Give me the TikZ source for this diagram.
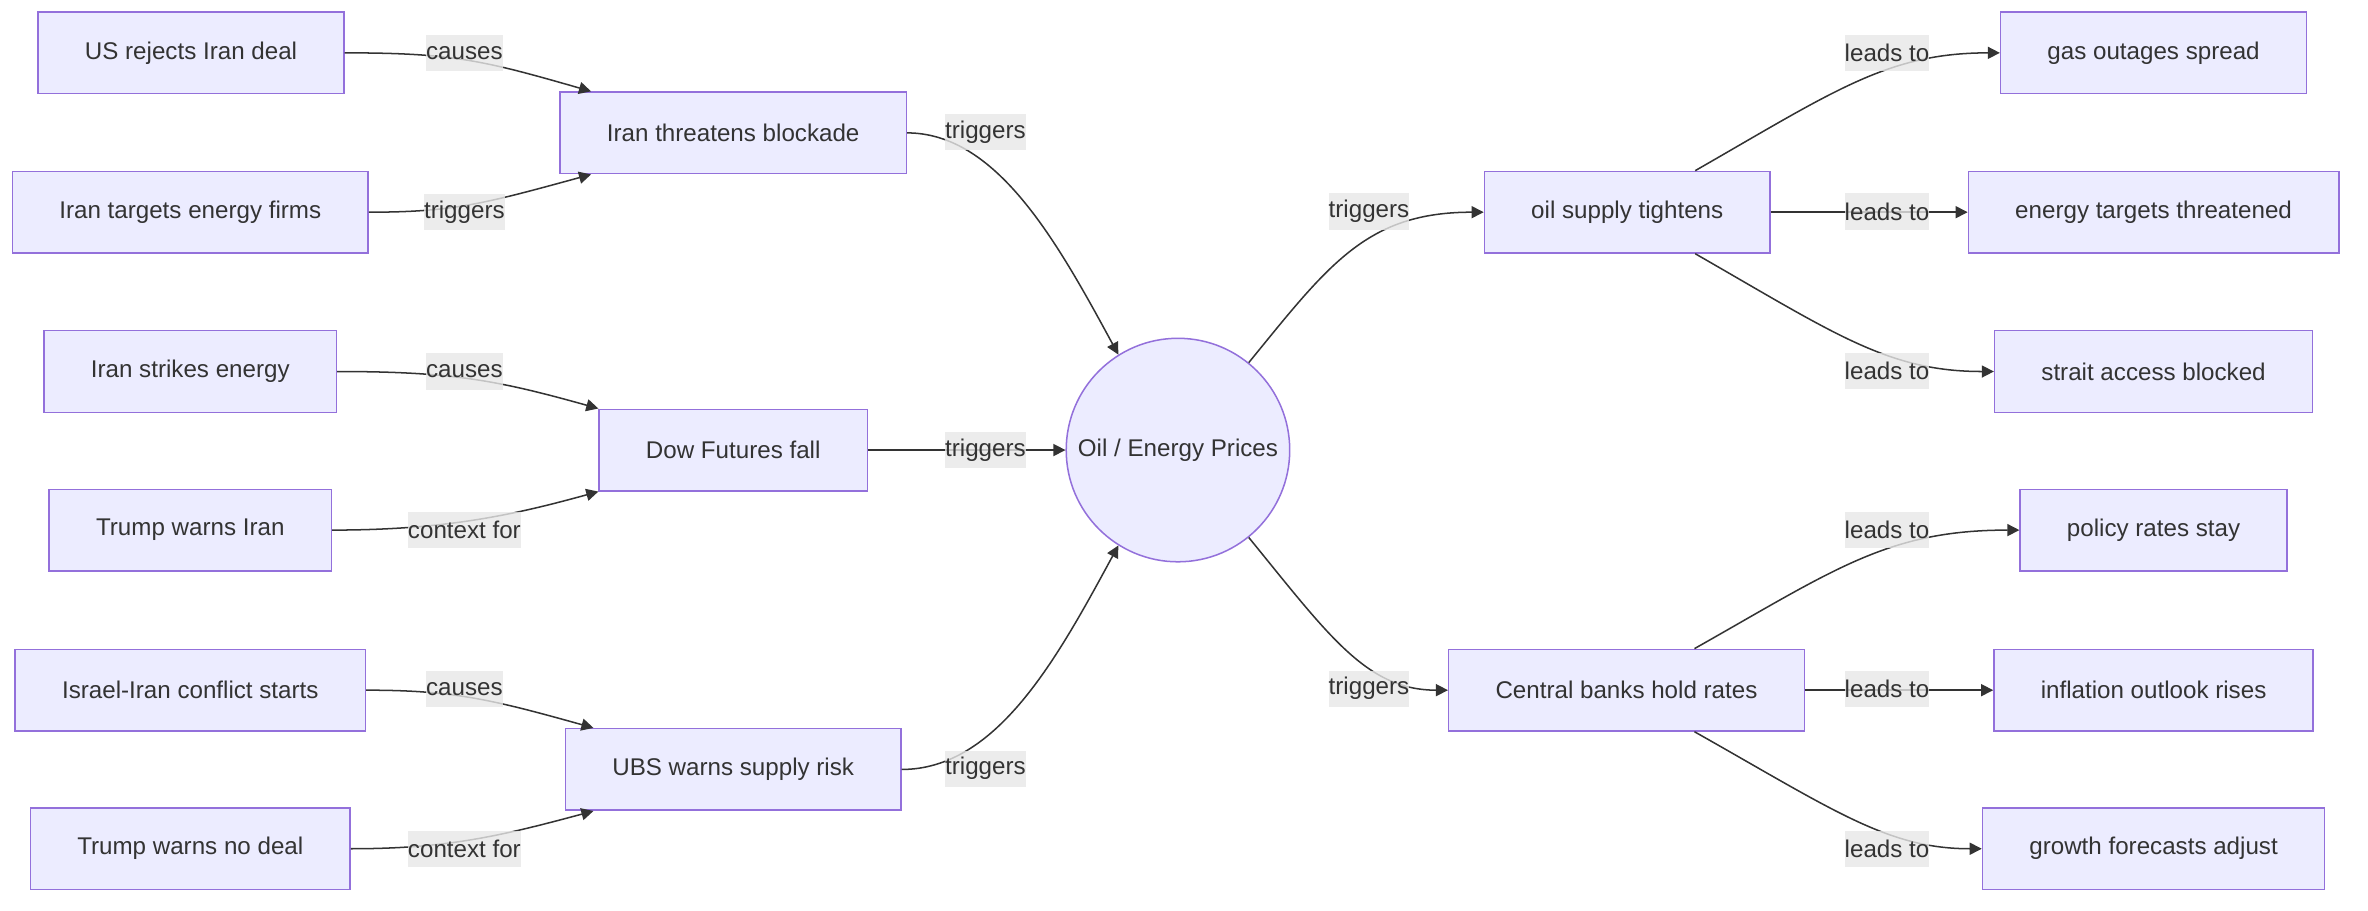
\documentclass[tikz,border=0pt]{standalone}
\usepackage{fontspec}
\setmainfont{Liberation Sans}
\usetikzlibrary{arrows.meta}
\definecolor{nodefill}{HTML}{ECECFF}
\definecolor{nodeline}{HTML}{9370DB}
\definecolor{txt}{HTML}{333333}
\definecolor{lblbg}{HTML}{E8E8E8}
\begin{document}
\begin{tikzpicture}[x=1pt,y=-1pt,
  box/.style={draw=nodeline, fill=nodefill, line width=1pt, rectangle,
    minimum height=54pt, inner xsep=31pt, inner ysep=0pt, text=txt,
    font=\fontsize{16pt}{19pt}\selectfont},
  hub/.style={draw=nodeline, fill=nodefill, line width=1pt, circle,
    minimum size=148pt, inner sep=0pt, text=txt,
    font=\fontsize{16pt}{19pt}\selectfont},
  lbl/.style={fill=lblbg, fill opacity=0.8, text opacity=1, text=txt,
    inner xsep=0pt, inner ysep=0pt, minimum height=24pt,
    font=\fontsize{16pt}{19pt}\selectfont},
  edge/.style={draw=txt, line width=1pt, -{Triangle[length=8pt,width=8pt]}}
]
\fill[white] (0,0) rectangle (1568,602.6);
\useasboundingbox (0,0) rectangle (1568,602.6);

% left column
\node[box] (us)  at (126.5,35)  {US rejects Iran deal};
\node[box] (it)  at (126,140.5) {Iran targets energy firms};
\node[box] (is)  at (126,246)   {Iran strikes energy};
\node[box] (twi) at (126,351)   {Trump warns Iran};
\node[box] (ii)  at (126,457)   {Israel-Iran conflict starts};
\node[box] (tnd) at (126,562)   {Trump warns no deal};
% middle column
\node[box] (itb) at (485.5,88)  {Iran threatens blockade};
\node[box] (dow) at (485.5,298) {Dow Futures fall};
\node[box] (ubs) at (485.5,509.5) {UBS warns supply risk};
% hub
\node[hub] (oil) at (780,298) {Oil / Energy Prices};
% right middle
\node[box] (ot) at (1077.5,140.5) {oil supply tightens};
\node[box] (cb) at (1077,457)   {Central banks hold rates};
% right column
\node[box] (gas) at (1426,35)    {gas outages spread};
\node[box] (et)  at (1426,140.5) {energy targets threatened};
\node[box] (sa)  at (1426,246)   {strait access blocked};
\node[box] (prs) at (1426,351)   {policy rates stay};
\node[box] (ior) at (1426,457)   {inflation outlook rises};
\node[box] (gfa) at (1426,562)   {growth forecasts adjust};

% edges: left -> middle
\draw[edge] (us.east) .. controls (300,35) and (320,40) .. ([xshift=21pt]itb.north west);
\draw[edge] (it.east) .. controls (300,140.5) and (320,135) .. ([xshift=21pt]itb.south west);
\draw[edge] (is.east) .. controls (300,246) and (330,252) .. (dow.north west);
\draw[edge] (twi.east) .. controls (295,351) and (340,341) .. (dow.south west);
\draw[edge] (ii.east) .. controls (300,457) and (325,463) .. ([xshift=19pt]ubs.north west);
\draw[edge] (tnd.east) .. controls (295,562) and (330,554) .. ([xshift=19pt]ubs.south west);
% middle -> hub
\draw[edge] (itb.east) .. controls (660,88) and (700,160) .. (oil.122);
\draw[edge] (dow.east) -- (oil.west);
\draw[edge] (ubs.east) .. controls (660,509.5) and (700,436) .. (oil.238);
% hub -> right middle
\draw[edge] (oil.51) .. controls (880,175) and (905,140.5) .. (ot.west);
\draw[edge] (oil.-51) .. controls (880,421) and (905,457) .. (cb.west);
% right middle -> right
\draw[edge] ([xshift=45pt]ot.north) .. controls (1215,60) and (1250,35) .. (gas.west);
\draw[edge] (ot.east) -- (et.west);
\draw[edge] ([xshift=45pt]ot.south) .. controls (1215,221) and (1250,246) .. (sa.west);
\draw[edge] ([xshift=45pt]cb.north) .. controls (1215,377) and (1250,351) .. (prs.west);
\draw[edge] (cb.east) -- (ior.west);
\draw[edge] ([xshift=45pt]cb.south) .. controls (1215,537) and (1250,562) .. (gfa.west);

% edge labels
\node[lbl] (l1) at (307.5,35) {causes};
\node[lbl] (l2) at (307.5,140.5) {triggers};
\node[lbl] (l3) at (307.5,246) {causes};
\node[lbl] (l4) at (307.5,351) {context for};
\node[lbl] (l5) at (307.5,456) {causes};
\node[lbl] (l6) at (307.5,562) {context for};
\node[lbl] (l7) at (652.5,87.5) {triggers};
\node[lbl] (l8) at (652.5,298) {triggers};
\node[lbl] (l9) at (652.5,509) {triggers};
\node[lbl] (l10) at (906.5,140) {triggers};
\node[lbl] (l11) at (906.5,456) {triggers};
\node[lbl] (l12) at (1249.5,35) {leads to};
\node[lbl] (l13) at (1249.5,140) {leads to};
\node[lbl] (l14) at (1249.5,245.5) {leads to};
\node[lbl] (l15) at (1249.5,351) {leads to};
\node[lbl] (l16) at (1249.5,456) {leads to};
\node[lbl] (l17) at (1249.5,562) {leads to};
\end{tikzpicture}
\end{document}
